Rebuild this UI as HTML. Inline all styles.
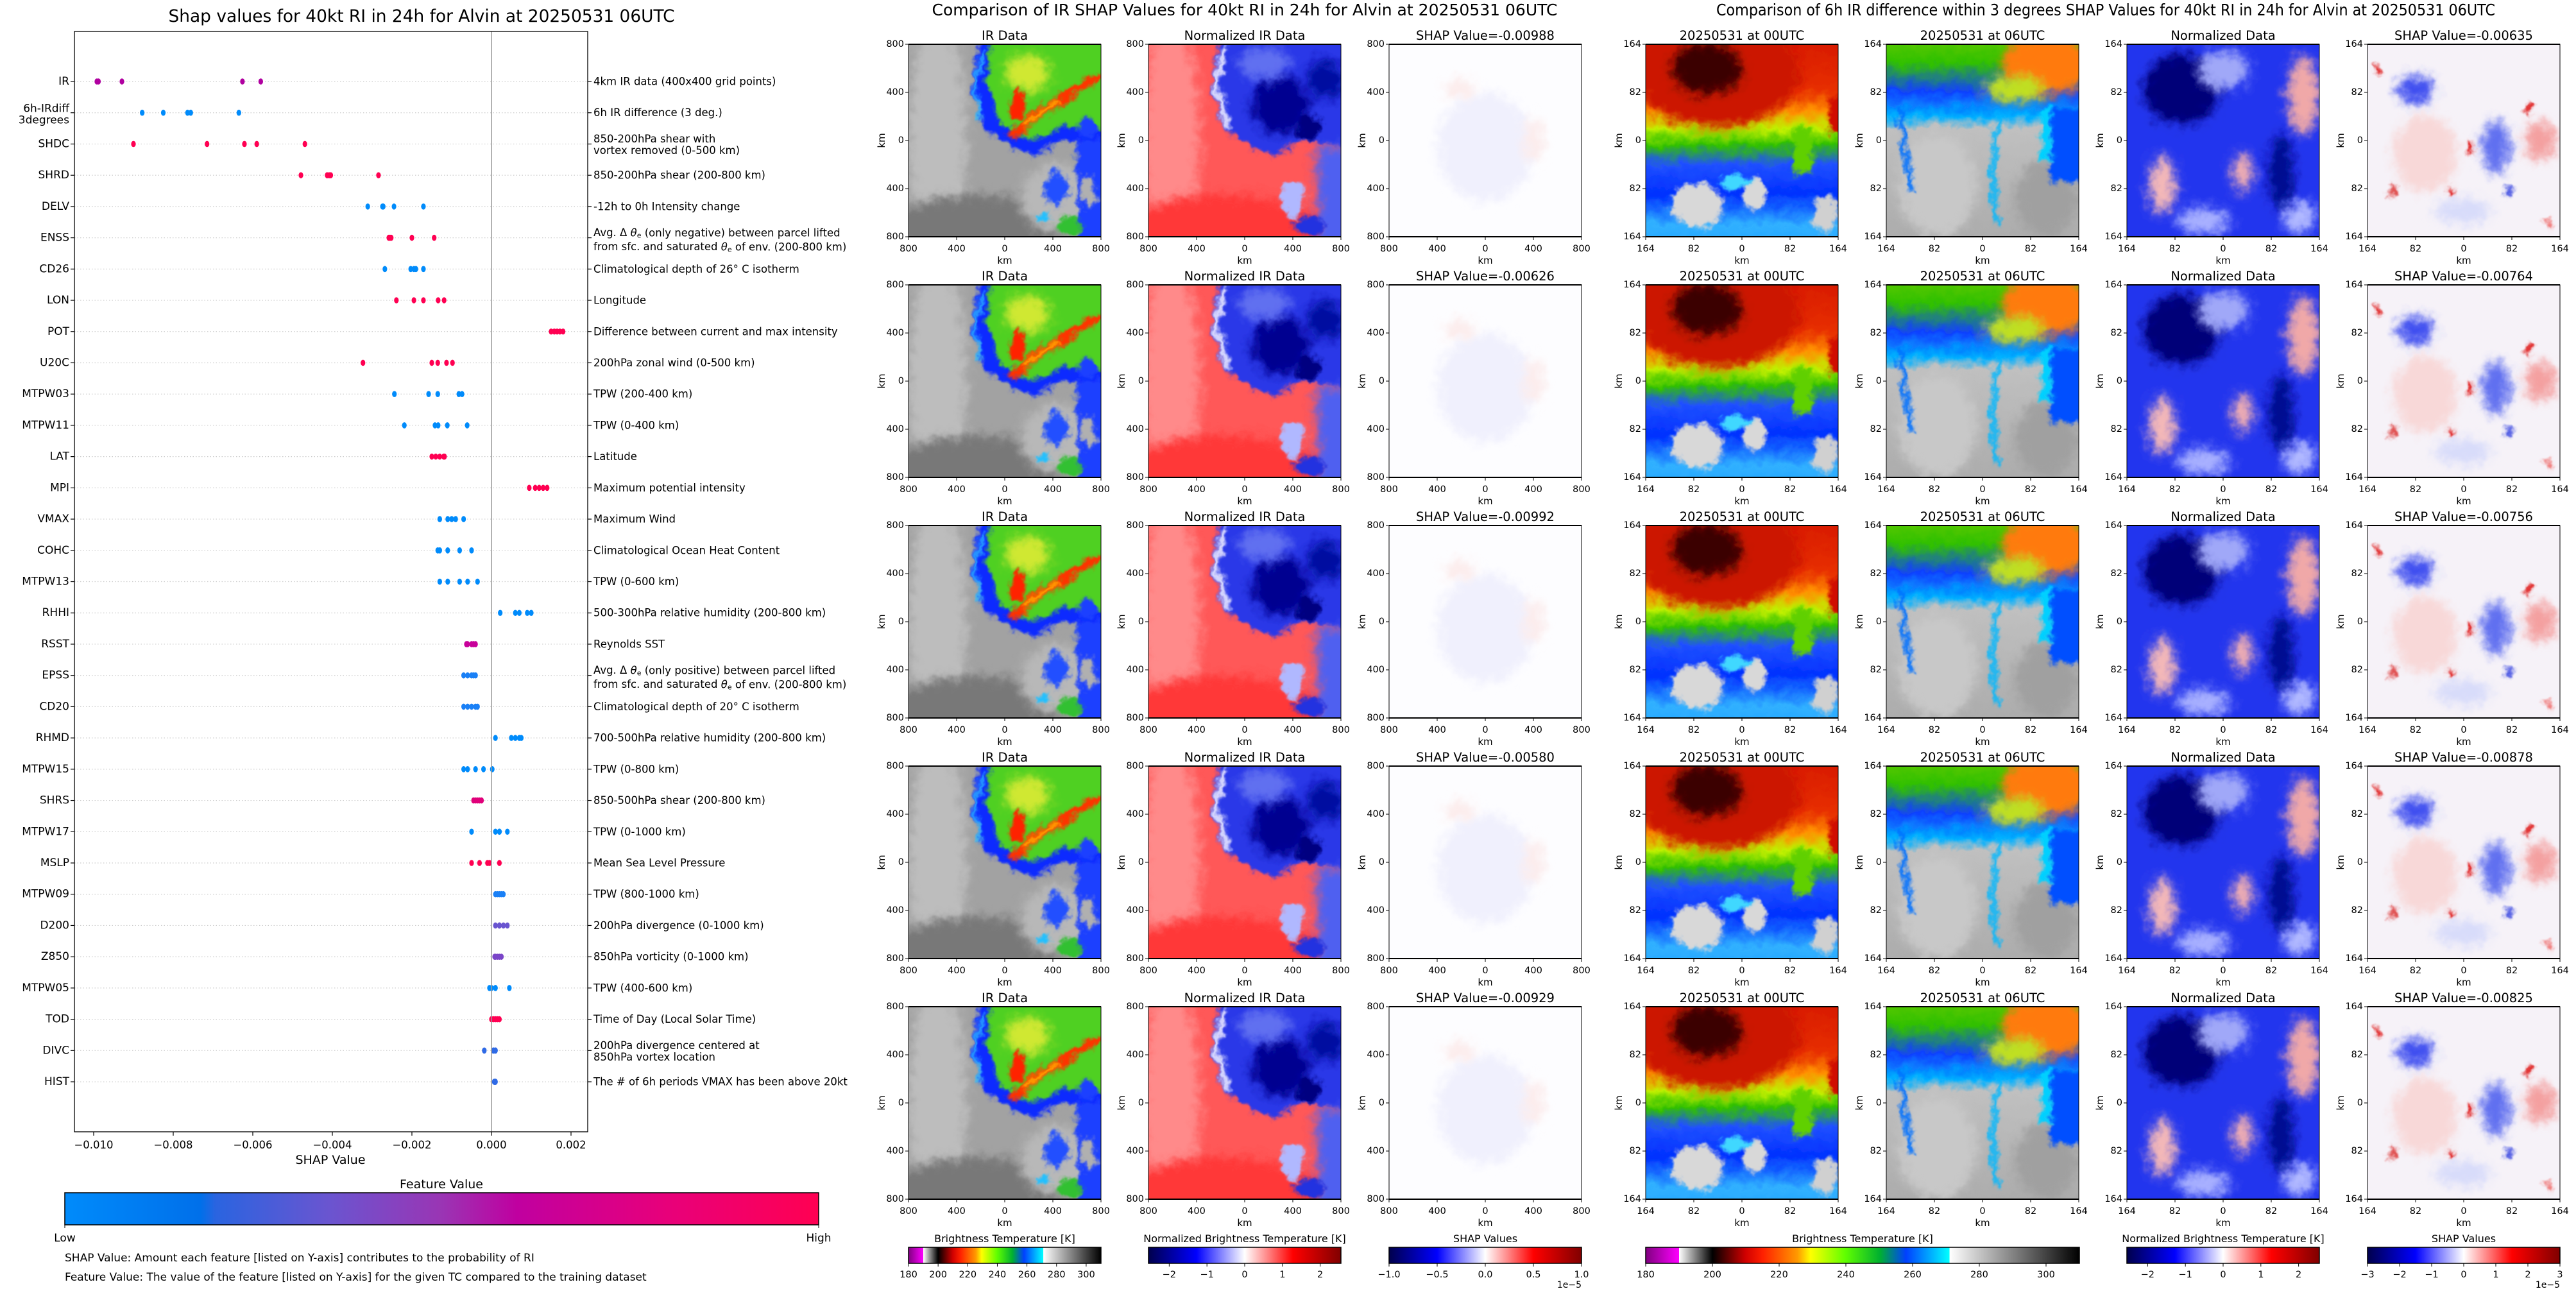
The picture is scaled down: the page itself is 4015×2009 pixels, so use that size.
<!DOCTYPE html>
<html><head><meta charset="utf-8"><title>SHAP RI Alvin</title>
<style>html,body{margin:0;padding:0;background:#fff}svg{display:block;font-family:"DejaVu Sans","Liberation Sans",sans-serif}</style>
</head><body>
<svg id="root" xmlns="http://www.w3.org/2000/svg" width="4015" height="2009" viewBox="0 0 4015 2009">
<defs>
<filter id="b3" filterUnits="userSpaceOnUse" x="-100" y="-100" width="500" height="500"><feGaussianBlur stdDeviation="3"/></filter>
<filter id="b8" filterUnits="userSpaceOnUse" x="-100" y="-100" width="500" height="500"><feGaussianBlur stdDeviation="8"/></filter>
<filter id="rough" filterUnits="userSpaceOnUse" x="-40" y="-40" width="380" height="380"><feTurbulence type="fractalNoise" baseFrequency="0.06" numOctaves="3" seed="4" result="n"/><feDisplacementMap in="SourceGraphic" in2="n" scale="22" xChannelSelector="R" yChannelSelector="G"/></filter>
<clipPath id="pc"><rect x="0" y="0" width="300" height="300"/></clipPath>
<linearGradient id="gFeat" x1="0" x2="1"><stop offset="0" stop-color="#008bfb"/><stop offset="0.18" stop-color="#0070ea"/><stop offset="0.2" stop-color="#2a64e0"/><stop offset="0.35" stop-color="#6a55d0"/><stop offset="0.5" stop-color="#9a35b4"/><stop offset="0.6" stop-color="#c000a0"/><stop offset="0.8" stop-color="#e8007a"/><stop offset="1" stop-color="#ff0052"/></linearGradient>
<linearGradient id="gBT" x1="0" x2="1"><stop offset="0" stop-color="#800080"/><stop offset="0.0769" stop-color="#ff00ff"/><stop offset="0.077" stop-color="#ffffff"/><stop offset="0.1538" stop-color="#000000"/><stop offset="0.23" stop-color="#d00000"/><stop offset="0.27" stop-color="#ff2000"/><stop offset="0.35" stop-color="#ff9a00"/><stop offset="0.38" stop-color="#ffff00"/><stop offset="0.46" stop-color="#60ff00"/><stop offset="0.54" stop-color="#00b030"/><stop offset="0.6" stop-color="#0040ff"/><stop offset="0.7" stop-color="#00ffff"/><stop offset="0.701" stop-color="#ffffff"/><stop offset="1" stop-color="#000000"/></linearGradient>
<linearGradient id="gSeis" x1="0" x2="1"><stop offset="0" stop-color="#00004c"/><stop offset="0.25" stop-color="#0000ff"/><stop offset="0.5" stop-color="#ffffff"/><stop offset="0.75" stop-color="#ff0000"/><stop offset="1" stop-color="#800000"/></linearGradient>
<linearGradient id="gP1" x1="0" x2="0" y1="0" y2="1"><stop offset="0" stop-color="#d01000"/><stop offset="0.3" stop-color="#e83000"/><stop offset="0.38" stop-color="#ff9000"/><stop offset="0.45" stop-color="#c0f000"/><stop offset="0.52" stop-color="#30c000"/><stop offset="0.6" stop-color="#2050ff"/><stop offset="0.72" stop-color="#0030ff"/><stop offset="0.85" stop-color="#30b0ff"/><stop offset="1" stop-color="#20a0ff"/></linearGradient>
<linearGradient id="gP2" x1="0" x2="0" y1="0" y2="1"><stop offset="0" stop-color="#80d000"/><stop offset="0.18" stop-color="#30c000"/><stop offset="0.3" stop-color="#1040ff"/><stop offset="0.4" stop-color="#00b0ff"/><stop offset="0.45" stop-color="#c0c0c0"/><stop offset="1" stop-color="#a8a8a8"/></linearGradient>
</defs>
<g id="left"></g>
<g id="mid"></g>
<g id="right"></g>
</svg>
<script>
// ---------- data ----------
const features = ["IR","6h-IRdiff|3degrees","SHDC","SHRD","DELV","ENSS","CD26","LON","POT","U20C","MTPW03","MTPW11","LAT","MPI","VMAX","COHC","MTPW13","RHHI","RSST","EPSS","CD20","RHMD","MTPW15","SHRS","MTPW17","MSLP","MTPW09","D200","Z850","MTPW05","TOD","DIVC","HIST"];
const descriptions = ["4km IR data (400x400 grid points)","6h IR difference (3 deg.)","850-200hPa shear with|vortex removed (0-500 km)","850-200hPa shear (200-800 km)","-12h to 0h Intensity change","ENSS","Climatological depth of 26° C isotherm","Longitude","Difference between current and max intensity","200hPa zonal wind (0-500 km)","TPW (200-400 km)","TPW (0-400 km)","Latitude","Maximum potential intensity","Maximum Wind","Climatological Ocean Heat Content","TPW (0-600 km)","500-300hPa relative humidity (200-800 km)","Reynolds SST","EPSS","Climatological depth of 20° C isotherm","700-500hPa relative humidity (200-800 km)","TPW (0-800 km)","850-500hPa shear (200-800 km)","TPW (0-1000 km)","Mean Sea Level Pressure","TPW (800-1000 km)","200hPa divergence (0-1000 km)","850hPa vorticity (0-1000 km)","TPW (400-600 km)","Time of Day (Local Solar Time)","200hPa divergence centered at|850hPa vortex location","The # of 6h periods VMAX has been above 20kt"];
const shapValues = [
[-0.00988,-0.00626,-0.00992,-0.00580,-0.00929],
[-0.00635,-0.00764,-0.00756,-0.00878,-0.00825],
[-0.00900,-0.00715,-0.00621,-0.00590,-0.00469],
[-0.00479,-0.00413,-0.00408,-0.00404,-0.00284],
[-0.00311,-0.00274,-0.00272,-0.00245,-0.00171],
[-0.00258,-0.00255,-0.00252,-0.00200,-0.00144],
[-0.00268,-0.00203,-0.00195,-0.00190,-0.00171],
[-0.00239,-0.00195,-0.00171,-0.00134,-0.00119],
[0.00150,0.00158,0.00165,0.00172,0.00180],
[-0.00323,-0.00150,-0.00135,-0.00113,-0.00098],
[-0.00244,-0.00158,-0.00135,-0.00082,-0.00074],
[-0.00219,-0.00142,-0.00134,-0.00111,-0.00061],
[-0.00150,-0.00140,-0.00130,-0.00120,-0.00118],
[0.00095,0.00110,0.00120,0.00130,0.00140],
[-0.00130,-0.00110,-0.00100,-0.00090,-0.00070],
[-0.00135,-0.00130,-0.00110,-0.00080,-0.00050],
[-0.00130,-0.00110,-0.00080,-0.00060,-0.00035],
[0.00022,0.00060,0.00070,0.00090,0.00100],
[-0.00063,-0.00060,-0.00050,-0.00045,-0.00040],
[-0.00070,-0.00060,-0.00050,-0.00045,-0.00040],
[-0.00070,-0.00060,-0.00050,-0.00040,-0.00035],
[0.00010,0.00050,0.00060,0.00070,0.00075],
[-0.00070,-0.00060,-0.00040,-0.00020,0.00002],
[-0.00045,-0.00040,-0.00035,-0.00030,-0.00025],
[-0.00050,0.00010,0.00020,0.00020,0.00040],
[-0.00050,-0.00030,-0.00010,-0.00005,0.00020],
[0.00010,0.00015,0.00020,0.00025,0.00030],
[0.00010,0.00020,0.00020,0.00030,0.00040],
[0.00008,0.00010,0.00015,0.00020,0.00025],
[-0.00005,0.00000,0.00010,0.00010,0.00045],
[0.00000,0.00005,0.00010,0.00015,0.00020],
[-0.00018,0.00005,0.00010,0.00010,0.00005],
[0.00007,0.00008,0.00009,0.00010,0.00010]];
const rowColors = ["#b000a0","#008bfb","#ff0052","#ff0052","#008bfb","#ff0052","#008bfb","#ff0052","#ff0052","#ff0052","#008bfb","#008bfb","#ff0052","#ff0052","#008bfb","#008bfb","#008bfb","#008bfb","#c8009a","#1a80f6","#1a80f6","#008bfb","#008bfb","#e0007a","#008bfb","#ff0052","#1a80f6","#6a55d0","#7a45c8","#008bfb","#ff0052","#2f6ae6","#2f6ae6"];
const xTicks = [-0.010,-0.008,-0.006,-0.004,-0.002,0.000,0.002];
const irShap = ["-0.00988","-0.00626","-0.00992","-0.00580","-0.00929"];
const diffShap = ["-0.00635","-0.00764","-0.00756","-0.00878","-0.00825"];
const kmTicks800 = ["800","400","0","400","800"];
const kmTicks164 = ["164","82","0","82","164"];
const btTicks = [180,200,220,240,260,280,300];
const normTicks = [-2,-1,0,1,2];
const shapTicksMid = ["−1.0","−0.5","0.0","0.5","1.0"];
const shapTicksRight = ["−3","−2","−1","0","1","2","3"];

const NS="http://www.w3.org/2000/svg";
function mk(parent,tag,attrs,text){const e=document.createElementNS(NS,tag);for(const k in attrs)e.setAttribute(k,attrs[k]);if(text!==undefined)e.textContent=text;parent.appendChild(e);return e;}

// ---------- left summary plot ----------
const L=document.getElementById('left');
const axL=116,axR=916,axT=49,axB=1764;
const xScale=v=>766+v*62000;
const rowY=i=>127+i*48.72;
let t=mk(L,'text',{x:657,y:34,'text-anchor':'middle','font-size':27,textLength:789,lengthAdjust:'spacingAndGlyphs'},'Shap values for 40kt RI in 24h for Alvin at 20250531 06UTC');

features.forEach((f,i)=>{
  const y=rowY(i);
  const g=mk(L,'g',{});
  
  
  mk(g,'line',{x1:axL,x2:axR,y1:y,y2:y,stroke:'#ccc','stroke-width':1.2,'stroke-dasharray':'1.5 3'});
  mk(g,'line',{x1:axL-6,x2:axL,y1:y,y2:y,stroke:'#000','stroke-width':1.2});
  mk(g,'line',{x1:axR,x2:axR+6,y1:y,y2:y,stroke:'#000','stroke-width':1.2});
  const parts=f.split('|');
  if(parts.length===1){const lt=mk(g,'text',{x:108,y:y,'text-anchor':'end','dominant-baseline':'central','font-size':17},f);}
  else{mk(g,'text',{x:108,y:y-6,'text-anchor':'end','dominant-baseline':'central','font-size':17},parts[0]);mk(g,'text',{x:108,y:y+12,'text-anchor':'end','dominant-baseline':'central','font-size':17},parts[1]);}
  const d=descriptions[i];
  if(d==='ENSS'||d==='EPSS'){
    const w=d==='ENSS'?'negative':'positive';
    const a=mk(g,'text',{x:925,y:y-8,'dominant-baseline':'central','font-size':16.5});
    a.innerHTML='Avg. Δ <tspan font-style="italic">θ</tspan><tspan font-size="11" dy="4">e</tspan><tspan dy="-4"> (only '+w+') between parcel lifted</tspan>';
    const b=mk(g,'text',{x:925,y:y+14,'dominant-baseline':'central','font-size':16.5});
    b.innerHTML='from sfc. and saturated <tspan font-style="italic">θ</tspan><tspan font-size="11" dy="4">e</tspan><tspan dy="-4"> of env. (200-800 km)</tspan>';
  } else {
    const dp=d.split('|');
    if(dp.length===1) mk(g,'text',{x:925,y:y,'dominant-baseline':'central','font-size':16.5},d);
    else {mk(g,'text',{x:925,y:y-8,'dominant-baseline':'central','font-size':16.5},dp[0]);mk(g,'text',{x:925,y:y+10,'dominant-baseline':'central','font-size':16.5},dp[1]);}
  }
  shapValues[i].forEach(v=>{
    const c=mk(g,'ellipse',{cx:xScale(v),cy:y,rx:3.6,ry:4.8,fill:rowColors[i]});
    
    
  });
});
mk(L,'line',{x1:xScale(0),x2:xScale(0),y1:axT,y2:axB,stroke:'#999','stroke-width':1.5});
let fr=mk(L,'rect',{x:axL,y:axT,width:axR-axL,height:axB-axT,fill:'none',stroke:'#000','stroke-width':1.3});

xTicks.forEach(v=>{const x=xScale(v);mk(L,'line',{x1:x,x2:x,y1:axB,y2:axB+6,stroke:'#000','stroke-width':1.2});
  const tl=mk(L,'text',{x:x,y:1790,'text-anchor':'middle','font-size':16.5},(v<0?'−':'')+Math.abs(v).toFixed(3));
  });
t=mk(L,'text',{x:515,y:1814,'text-anchor':'middle','font-size':19},'SHAP Value');
t=mk(L,'text',{x:688,y:1852,'text-anchor':'middle','font-size':19},'Feature Value');
let cb=mk(L,'rect',{x:101,y:1859,width:1175,height:50,fill:'url(#gFeat)',stroke:'#000','stroke-width':1.5});
mk(L,'line',{x1:101,x2:101,y1:1909,y2:1914,stroke:'#000'});mk(L,'line',{x1:1276,x2:1276,y1:1909,y2:1914,stroke:'#000'});
mk(L,'text',{x:101,y:1935,'text-anchor':'middle','font-size':17},'Low');
mk(L,'text',{x:1276,y:1935,'text-anchor':'middle','font-size':17},'High');
t=mk(L,'text',{x:101,y:1966,'font-size':17},'SHAP Value: Amount each feature [listed on Y-axis] contributes to the probability of RI');
t=mk(L,'text',{x:101,y:1996,'font-size':17},'Feature Value: The value of the feature [listed on Y-axis] for the given TC compared to the training dataset');

// ---------- image templates ----------
const BG=c=>`<rect x="-40" y="-40" width="380" height="380" fill="${c}"/>`;
const IMG={
ir:BG('#a2a2a2')+`<ellipse cx="45" cy="140" rx="45" ry="180" fill="#bdbdbd" filter="url(#b8)"/><ellipse cx="110" cy="285" rx="140" ry="50" fill="#787878" filter="url(#b8)"/><ellipse cx="230" cy="240" rx="55" ry="55" fill="#b8b8b8" filter="url(#b8)"/>
<path d="M112,-20 L320,-20 L320,165 L240,150 L195,175 L160,160 L120,135 L98,70 Z" fill="#0a2cff" filter="url(#b3)"/><path d="M118,10 L104,60 L112,120" stroke="#30d0ff" stroke-width="5" fill="none" filter="url(#b3)"/>
<path d="M130,-20 L320,-20 L320,140 L240,128 L195,150 L145,125 L122,60 Z" fill="#50d020" filter="url(#b3)"/><ellipse cx="185" cy="45" rx="35" ry="28" fill="#d0e830" filter="url(#b8)"/><ellipse cx="280" cy="130" rx="15" ry="15" fill="#1a40ff" filter="url(#b3)"/>
<ellipse cx="170" cy="95" rx="12" ry="24" fill="#ff2400" filter="url(#b3)"/><path d="M165,140 L200,110 L240,85 L295,50" stroke="#ff3000" stroke-width="14" stroke-linecap="round" fill="none" filter="url(#b3)"/><path d="M175,130 L230,90" stroke="#ffd000" stroke-width="5" fill="none" filter="url(#b3)"/>
<rect x="262" y="150" width="60" height="170" fill="#1a40ff" filter="url(#b3)"/><ellipse cx="230" cy="225" rx="18" ry="28" fill="#2050ff" filter="url(#b3)"/><ellipse cx="250" cy="282" rx="20" ry="14" fill="#30c030" filter="url(#b3)"/><ellipse cx="210" cy="270" rx="10" ry="8" fill="#20c0ff" filter="url(#b3)"/><ellipse cx="280" cy="230" rx="12" ry="25" fill="#b0b0b0" filter="url(#b3)"/>`,
norm:BG('#ff5858')+`<ellipse cx="35" cy="140" rx="45" ry="180" fill="#ff8a8a" filter="url(#b8)"/><ellipse cx="120" cy="285" rx="150" ry="50" fill="#ff3838" filter="url(#b8)"/>
<path d="M112,-20 L320,-20 L320,165 L240,150 L195,175 L160,160 L120,135 L98,70 Z" fill="#2a38e8" filter="url(#b3)"/><path d="M118,5 L105,65 L125,130" stroke="#e0e0ff" stroke-width="10" fill="none" filter="url(#b3)"/>
<ellipse cx="205" cy="95" rx="45" ry="45" fill="#000090" filter="url(#b8)"/><ellipse cx="275" cy="55" rx="30" ry="30" fill="#0010a0" filter="url(#b8)"/><ellipse cx="180" cy="30" rx="40" ry="25" fill="#6070f0" filter="url(#b8)"/><ellipse cx="250" cy="130" rx="20" ry="20" fill="#000080" filter="url(#b3)"/>
<rect x="262" y="160" width="60" height="160" fill="#5060f0" filter="url(#b8)"/><ellipse cx="225" cy="240" rx="18" ry="30" fill="#b0b8ff" filter="url(#b3)"/><ellipse cx="250" cy="282" rx="25" ry="14" fill="#2030e0" filter="url(#b3)"/>`,
shap:BG('#fdfdff')+`<ellipse cx="150" cy="160" rx="75" ry="85" fill="#f0f0fd" filter="url(#b8)"/><ellipse cx="110" cy="70" rx="25" ry="15" fill="#fcecec" filter="url(#b8)"/><ellipse cx="225" cy="150" rx="15" ry="35" fill="#fcecec" filter="url(#b8)"/>`,
p1:`<rect x="-40" y="-40" width="380" height="380" fill="url(#gP1)"/><ellipse cx="110" cy="45" rx="130" ry="85" fill="#cc1400" filter="url(#b8)"/><ellipse cx="95" cy="38" rx="55" ry="40" fill="#3a0000" filter="url(#b8)"/><rect x="286" y="80" width="30" height="60" fill="#d01000" filter="url(#b3)"/><rect x="230" y="130" width="30" height="70" fill="#60d000" filter="url(#b3)"/>
<ellipse cx="80" cy="250" rx="40" ry="35" fill="#d8d8d8" filter="url(#b3)"/><ellipse cx="170" cy="235" rx="18" ry="25" fill="#d8d8d8" filter="url(#b3)"/><ellipse cx="280" cy="265" rx="20" ry="30" fill="#d0d0d0" filter="url(#b3)"/><ellipse cx="140" cy="215" rx="25" ry="10" fill="#40d8ff" filter="url(#b3)"/>`,
p2:`<rect x="-40" y="-40" width="380" height="380" fill="url(#gP2)"/><ellipse cx="250" cy="30" rx="70" ry="50" fill="#ff7a10" filter="url(#b8)"/><ellipse cx="200" cy="70" rx="50" ry="20" fill="#c0e020" filter="url(#b8)"/>
<ellipse cx="80" cy="220" rx="60" ry="80" fill="#c8c8c8" filter="url(#b8)"/><ellipse cx="250" cy="240" rx="50" ry="60" fill="#a0a0a0" filter="url(#b8)"/><rect x="255" y="100" width="65" height="115" fill="#0050ff" filter="url(#b3)"/><rect x="240" y="100" width="18" height="80" fill="#00d0ff" filter="url(#b3)"/>
<path d="M20,100 L30,170 L40,230" stroke="#0070ff" stroke-width="8" fill="none" filter="url(#b3)"/><path d="M175,110 L165,200 L172,280" stroke="#00b8ff" stroke-width="7" fill="none" filter="url(#b3)"/>`,
p3:BG('#2436ee')+`<ellipse cx="85" cy="70" rx="60" ry="55" fill="#000078" filter="url(#b8)"/><ellipse cx="150" cy="40" rx="40" ry="30" fill="#a0a8f8" filter="url(#b8)"/><ellipse cx="275" cy="80" rx="25" ry="60" fill="#f0a8a8" filter="url(#b8)"/><ellipse cx="240" cy="200" rx="20" ry="60" fill="#001090" filter="url(#b8)"/>
<ellipse cx="55" cy="220" rx="20" ry="45" fill="#f4b8b8" filter="url(#b8)"/><ellipse cx="180" cy="200" rx="15" ry="30" fill="#f4b0b0" filter="url(#b8)"/><ellipse cx="120" cy="275" rx="40" ry="20" fill="#a8b0ff" filter="url(#b8)"/><ellipse cx="270" cy="270" rx="25" ry="25" fill="#b0b8ff" filter="url(#b8)"/>`,
p4:BG('#f6f2f8')+`<ellipse cx="90" cy="170" rx="50" ry="60" fill="#f8d8d8" filter="url(#b8)"/><ellipse cx="75" cy="70" rx="28" ry="22" fill="#4050f0" filter="url(#b8)"/><ellipse cx="200" cy="160" rx="22" ry="40" fill="#6070f0" filter="url(#b8)"/><ellipse cx="270" cy="150" rx="25" ry="30" fill="#f4a0a0" filter="url(#b8)"/><ellipse cx="150" cy="260" rx="45" ry="20" fill="#d8dcfa" filter="url(#b8)"/>
<ellipse cx="160" cy="160" rx="5" ry="8" fill="#e01818" filter="url(#b3)"/><ellipse cx="130" cy="230" rx="5" ry="9" fill="#e02020" filter="url(#b3)"/><ellipse cx="250" cy="100" rx="5" ry="10" fill="#e02020" filter="url(#b3)"/><ellipse cx="15" cy="40" rx="5" ry="8" fill="#e02020" filter="url(#b3)"/><ellipse cx="40" cy="230" rx="6" ry="12" fill="#e05050" filter="url(#b3)"/><ellipse cx="285" cy="280" rx="8" ry="8" fill="#f08080" filter="url(#b3)"/><ellipse cx="220" cy="230" rx="4" ry="10" fill="#3040e0" filter="url(#b3)"/>`
};

function panel(parent,x,y,title,tpl,ticks,name,showY){
  const g=mk(parent,'g',{});
  
  
  mk(g,'text',{x:x+150,y:y-7,'text-anchor':'middle','font-size':19.5},title);
  const clip=mk(g,'g',{transform:`translate(${x},${y})`,'clip-path':'url(#pc)'});
  const im=mk(clip,'g',{filter:'url(#rough)'});
  im.innerHTML=IMG[tpl];
  mk(g,'rect',{x:x,y:y,width:300,height:300,fill:'none',stroke:'#000','stroke-width':1});
  mk(g,'line',{x1:x,x2:x+300,y1:y,y2:y,stroke:'#000','stroke-width':2});
  mk(g,'line',{x1:x,x2:x+300,y1:y+300,y2:y+300,stroke:'#000','stroke-width':2});
  ticks.forEach((tk,k)=>{
    const p=k*75;
    mk(g,'line',{x1:x+p,x2:x+p,y1:y+300,y2:y+305,stroke:'#000'});
    mk(g,'text',{x:x+p,y:y+323,'text-anchor':'middle','font-size':14.5},tk);
    mk(g,'line',{x1:x-5,x2:x,y1:y+p,y2:y+p,stroke:'#000'});
    mk(g,'text',{x:x-7,y:y+p,'text-anchor':'end','dominant-baseline':'central','font-size':14.5},tk);
  });
  mk(g,'text',{x:x+150,y:y+342,'text-anchor':'middle','font-size':15},'km');
  if(showY) mk(g,'text',{x:0,y:0,transform:`translate(${x-42},${y+150}) rotate(-90)`,'text-anchor':'middle','dominant-baseline':'central','font-size':15},'km');
}
function colorbar(parent,x,w,title,grad,ticks,pos,name,exp){
  const g=mk(parent,'g',{});
  
  
  mk(g,'text',{x:x+w/2,y:1936,'text-anchor':'middle','font-size':16},title);
  mk(g,'rect',{x:x,y:1944,width:w,height:25,fill:'url(#'+grad+')',stroke:'#000','stroke-width':1.5});
  ticks.forEach((tk,k)=>{const px=x+pos[k]*w;mk(g,'line',{x1:px,x2:px,y1:1969,y2:1974,stroke:'#000'});mk(g,'text',{x:px,y:1991,'text-anchor':'middle','font-size':14.5},tk);});
  if(exp) mk(g,'text',{x:x+w,y:2007,'text-anchor':'end','font-size':14},'1e−5');
}
const rowTops=[69,444,819,1194,1569];
const M=document.getElementById('mid');
t=mk(M,'text',{x:1940,y:24,'text-anchor':'middle','font-size':25,textLength:975,lengthAdjust:'spacingAndGlyphs'},'Comparison of IR SHAP Values for 40kt RI in 24h for Alvin at 20250531 06UTC');

rowTops.forEach((y,r)=>{
  panel(M,1416,y,'IR Data','ir',kmTicks800,'ir-data-panel-'+(r+1),true);
  panel(M,1790,y,'Normalized IR Data','norm',kmTicks800,'normalized-ir-panel-'+(r+1),true);
  panel(M,2165,y,'SHAP Value='+irShap[r],'shap',kmTicks800,'ir-shap-panel-'+(r+1),true);
});
colorbar(M,1416,300,'Brightness Temperature [K]','gBT',btTicks.map(String),btTicks.map(v=>(v-180)/130),'bt-colorbar-mid');
colorbar(M,1790,300,'Normalized Brightness Temperature [K]','gSeis',normTicks.map(v=>v<0?'−'+(-v):String(v)),normTicks.map(v=>(v+2.55)/5.1),'norm-colorbar-mid');
colorbar(M,2165,300,'SHAP Values','gSeis',shapTicksMid,[0,0.25,0.5,0.75,1],'shap-colorbar-mid',true);
const R=document.getElementById('right');
t=mk(R,'text',{x:3282,y:24,'text-anchor':'middle','font-size':25,textLength:1214,lengthAdjust:'spacingAndGlyphs'},'Comparison of 6h IR difference within 3 degrees SHAP Values for 40kt RI in 24h for Alvin at 20250531 06UTC');

rowTops.forEach((y,r)=>{
  panel(R,2565,y,'20250531 at 00UTC','p1',kmTicks164,'ir-00utc-panel-'+(r+1),true);
  panel(R,2940,y,'20250531 at 06UTC','p2',kmTicks164,'ir-06utc-panel-'+(r+1),true);
  panel(R,3315,y,'Normalized Data','p3',kmTicks164,'normalized-diff-panel-'+(r+1),true);
  panel(R,3690,y,'SHAP Value='+diffShap[r],'p4',kmTicks164,'diff-shap-panel-'+(r+1),true);
});
colorbar(R,2565,676,'Brightness Temperature [K]','gBT',btTicks.map(String),btTicks.map(v=>(v-180)/130),'bt-colorbar-right');
colorbar(R,3315,300,'Normalized Brightness Temperature [K]','gSeis',normTicks.map(v=>v<0?'−'+(-v):String(v)),normTicks.map(v=>(v+2.55)/5.1),'norm-colorbar-right');
colorbar(R,3690,300,'SHAP Values','gSeis',shapTicksRight,[0,1/6,2/6,0.5,4/6,5/6,1],'shap-colorbar-right',true);
</script>
</body></html>
